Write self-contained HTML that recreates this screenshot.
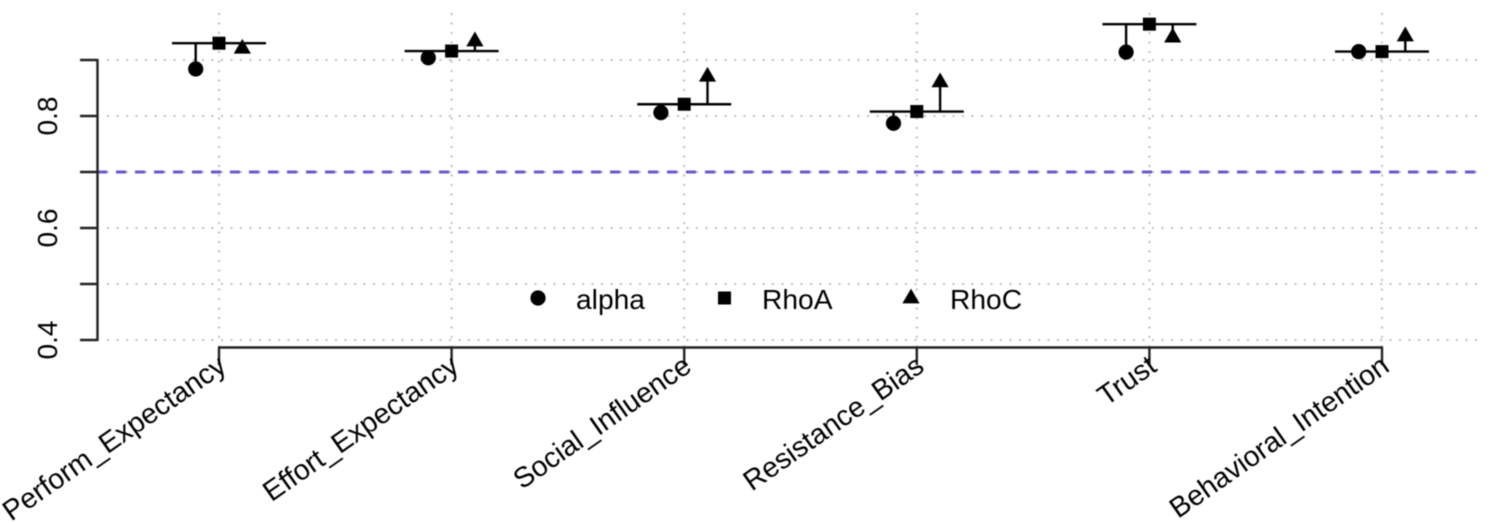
<!DOCTYPE html>
<html lang="en">
<head>
<meta charset="utf-8">
<title>Construct reliability chart</title>
<style>
  html, body { margin: 0; padding: 0; background: #fff; }
  svg { display: block; filter: blur(0.55px); }
  text { font-family: "Liberation Sans", sans-serif; fill: #000; }
</style>
</head>
<body>
<svg id="chart" xmlns="http://www.w3.org/2000/svg" width="1500" height="523" viewBox="0 0 1500 523"></svg>
<script>
const categories = ["Perform_Expectancy", "Effort_Expectancy", "Social_Influence", "Resistance_Bias", "Trust", "Behavioral_Intention"];
const alphaValues = [0.884, 0.904, 0.806, 0.787, 0.914, 0.915];
const rhoAValues = [0.930, 0.916, 0.821, 0.808, 0.964, 0.915];
const rhoCValues = [0.921, 0.934, 0.871, 0.861, 0.941, 0.943];
const yGridValues = [0.4, 0.5, 0.6, 0.7, 0.8, 0.9];
const yTickLabels = ["0.4", "0.6", "0.8"];
const thresholdValue = 0.7;
const legendLabels = ["alpha", "RhoA", "RhoC"];

const svg = document.getElementById('chart');
const NS = 'http://www.w3.org/2000/svg';

function xScale(i) { return 219 + 232.6 * i; }
function yScale(v) { return 340 - (v - 0.4) * 560; }

function make(tag, props) {
  const el = document.createElementNS(NS, tag);
  for (const k in props) el.setAttribute(k, props[k]);
  svg.appendChild(el);
  return el;
}
function line(x1, y1, x2, y2, stroke, width, dash) {
  const props = { x1: x1, y1: y1, x2: x2, y2: y2, stroke: stroke, 'stroke-width': width };
  if (dash) props['stroke-dasharray'] = dash;
  return make('line', props);
}
function circleMark(cx, cy) {
  return make('circle', { cx: cx, cy: cy, r: 7.6, fill: '#000' });
}
function squareMark(cx, cy) {
  return make('rect', { x: cx - 6.5, y: cy - 6.5, width: 13, height: 13, fill: '#000' });
}
function triangleMark(cx, cy) {
  const pts = (cx - 8.6) + ',' + (cy + 5.4) + ' ' + (cx + 8.6) + ',' + (cy + 5.4) + ' ' + cx + ',' + (cy - 9.4);
  return make('polygon', { points: pts, fill: '#000' });
}

yGridValues.forEach(function (v) {
  const el = line(107, yScale(v), 1482, yScale(v), '#bfbfbf', 2, '2 7.5');
  
  
});
categories.forEach(function (c, i) {
  const el = line(xScale(i), 13, xScale(i), 347, '#bfbfbf', 2, '2 7.5');
  
  
});

const thresholdLine = line(97, yScale(thresholdValue), 1480, yScale(thresholdValue), '#6a5acd', 3, '10 9');



const yAxisLine = line(97.5, yScale(0.9) - 1, 97.5, yScale(0.4) + 1, '#222', 2.4);


yGridValues.forEach(function (v) {
  const el = line(80, yScale(v), 97.5, yScale(v), '#222', 2.4);
  
  
});
yTickLabels.forEach(function (label) {
  const y = yScale(parseFloat(label));
  const el = make('text', { transform: 'translate(57,' + y + ') rotate(-90)', 'text-anchor': 'middle', 'font-size': 28 });
  el.textContent = label;
  
  
});

const xAxisLine = line(xScale(0) - 1, 347.5, xScale(categories.length - 1) + 1, 347.5, '#222', 2.6);


categories.forEach(function (c, i) {
  const tick = line(xScale(i), 347.5, xScale(i), 365, '#222', 2.4);
  
  
  const label = make('text', { transform: 'translate(' + (xScale(i) + 9) + ',370) rotate(-35)', 'text-anchor': 'end', 'font-size': 28.5 });
  label.textContent = c;
  
  
});

categories.forEach(function (c, i) {
  const x = xScale(i);
  const yA = yScale(alphaValues[i]);
  const yR = yScale(rhoAValues[i]);
  const yC = yScale(rhoCValues[i]);
  const bar = line(x - 47, yR, x + 47, yR, '#000', 2.4);
  
  
  const stemA = line(x - 23.3, yR, x - 23.3, yA, '#000', 2.4);
  
  
  const stemC = line(x + 23.3, yR, x + 23.3, yC, '#000', 2.4);
  
  
  const a = circleMark(x - 23.3, yA);
  
  
  const r = squareMark(x, yR);
  
  
  const t = triangleMark(x + 23.3, yC);
  
  
});

const legendCircle = circleMark(538, 298);


const legendSquare = squareMark(724.5, 298);


const legendTriangle = triangleMark(911, 298);



const legendAlpha = make('text', { x: 576, y: 309, 'font-size': 28.2 });
legendAlpha.textContent = legendLabels[0];


const legendRhoA = make('text', { x: 762, y: 309, 'font-size': 28.2 });
legendRhoA.textContent = legendLabels[1];


const legendRhoC = make('text', { x: 950, y: 309, 'font-size': 28.2 });
legendRhoC.textContent = legendLabels[2];


</script>
</body>
</html>
